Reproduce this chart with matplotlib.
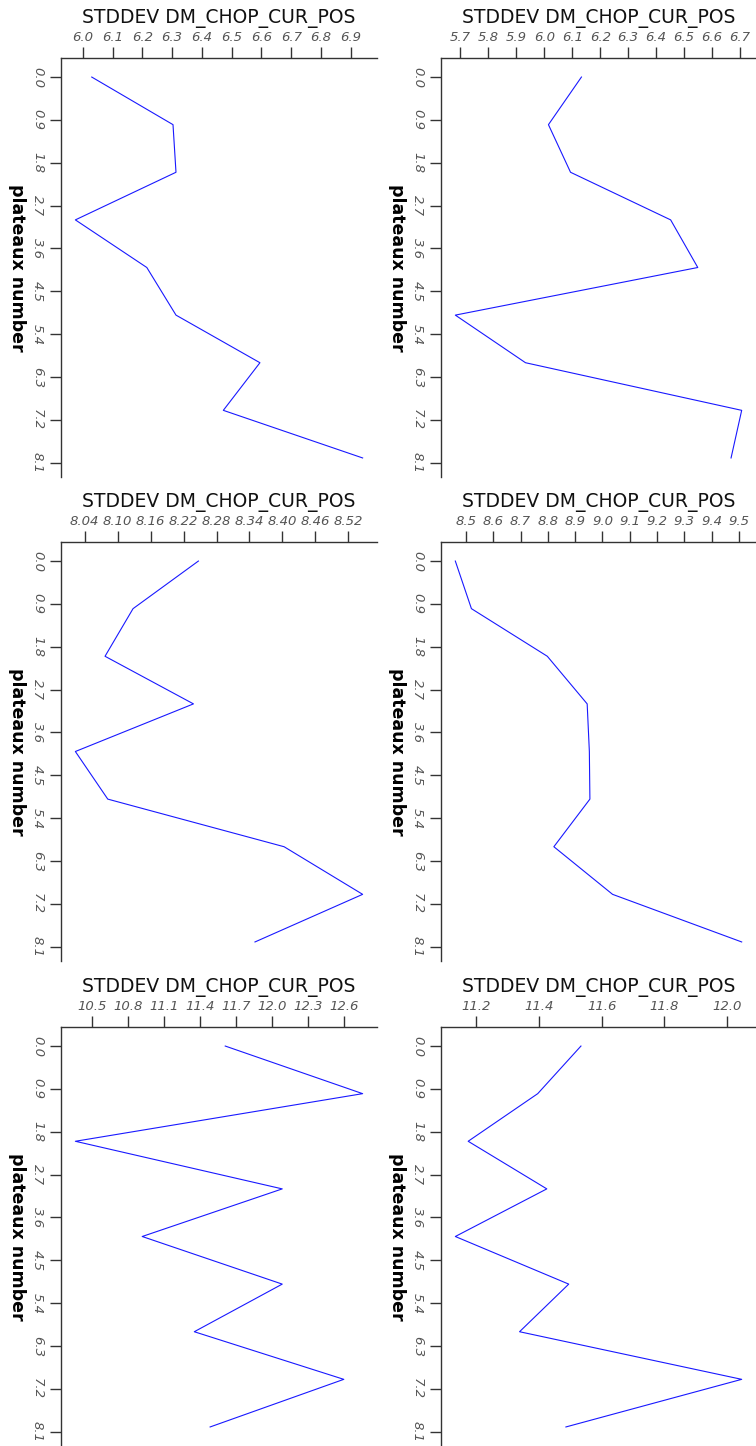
import matplotlib
matplotlib.use('Agg')
import matplotlib.pyplot as plt
import numpy as np

# plateau index on the vertical axis
plateaux = [0, 1, 2, 3, 4, 5, 6, 7, 8]
plateau_ticks = [0.0, 0.9, 1.8, 2.7, 3.6, 4.5, 5.4, 6.3, 7.2, 8.1]

# STDDEV DM_CHOP_CUR_POS per plateau, one series per panel
stddev_a = [6.030, 6.303, 6.313, 5.975, 6.215, 6.313, 6.595, 6.472, 6.940]
stddev_b = [6.133, 6.015, 6.094, 6.452, 6.549, 5.682, 5.933, 6.706, 6.668]
stddev_c = [8.247, 8.128, 8.077, 8.238, 8.023, 8.082, 8.403, 8.546, 8.350]
stddev_d = [8.461, 8.520, 8.798, 8.944, 8.952, 8.954, 8.822, 9.037, 9.510]
stddev_e = [11.612, 12.757, 10.363, 12.087, 10.920, 12.087, 11.354, 12.600, 11.486]
stddev_f = [11.534, 11.396, 11.174, 11.425, 11.133, 11.495, 11.338, 12.047, 11.486]

ticks_a = ['6.0', '6.1', '6.2', '6.3', '6.4', '6.5', '6.6', '6.7', '6.8', '6.9']
ticks_b = ['5.7', '5.8', '5.9', '6.0', '6.1', '6.2', '6.3', '6.4', '6.5', '6.6', '6.7']
ticks_c = ['8.04', '8.10', '8.16', '8.22', '8.28', '8.34', '8.40', '8.46', '8.52']
ticks_d = ['8.5', '8.6', '8.7', '8.8', '8.9', '9.0', '9.1', '9.2', '9.3', '9.4', '9.5']
ticks_e = ['10.5', '10.8', '11.1', '11.4', '11.7', '12.0', '12.3', '12.6']
ticks_f = ['11.2', '11.4', '11.6', '11.8', '12.0']

title = 'STDDEV DM_CHOP_CUR_POS'
ylabel = 'plateaux number'

W, H = 756, 1446
fig = plt.figure(figsize=(W / 100, H / 100), dpi=100)

# panel rectangles in pixels: left, top, width, height
boxes = [(61, 58, 316, 419), (441, 58, 315, 419),
         (61, 542, 316, 419), (441, 542, 315, 419),
         (61, 1027, 316, 419), (441, 1027, 315, 419)]
series = [stddev_a, stddev_b, stddev_c, stddev_d, stddev_e, stddev_f]
ticklists = [ticks_a, ticks_b, ticks_c, ticks_d, ticks_e, ticks_f]

for (l, t, w, h), vals, tl in zip(boxes, series, ticklists):
    ax = fig.add_axes([l / W, (H - t - h) / H, w / W, h / H])
    ax.plot(vals, plateaux, color='#0000ff', lw=0.8, alpha=0.9)
    ax.margins(0.05)
    ax.invert_yaxis()

    ax.xaxis.tick_top()
    ax.xaxis.set_label_position('top')
    ax.set_xticks([float(s) for s in tl])
    ax.set_xticklabels(tl)
    ax.set_yticks(plateau_ticks)
    ax.set_yticklabels(['%.1f' % v for v in plateau_ticks], rotation=-90,
                       va='center', ha='center')

    ax.tick_params(axis='both', length=8, width=1, color='#333333',
                   labelcolor='#555555', labelsize=9.5, pad=2)
    ax.tick_params(axis='y', pad=9)
    for lab in ax.get_xticklabels() + ax.get_yticklabels():
        lab.set_fontstyle('italic')

    ax.set_xlabel(title, fontsize=13.5, color='#111111', labelpad=6)
    ax.set_ylabel(ylabel, fontsize=12.5, fontweight='bold', rotation=-90,
                  labelpad=10, va='center')

    for side in ('right', 'bottom'):
        ax.spines[side].set_visible(False)
    for side in ('left', 'top'):
        ax.spines[side].set_color('#333333')
        ax.spines[side].set_linewidth(1)

fig.savefig('out.png', dpi=100, facecolor='white')
